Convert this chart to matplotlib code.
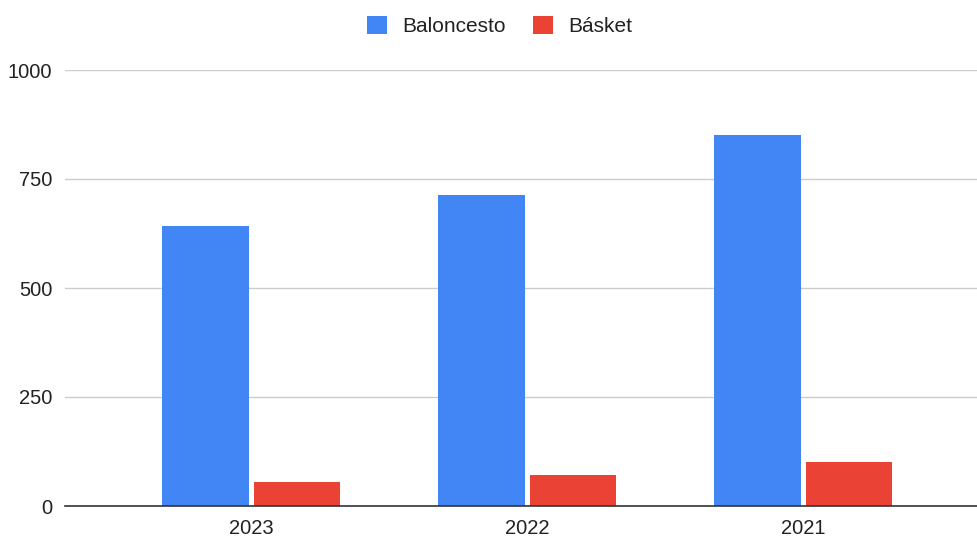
import matplotlib
matplotlib.use("Agg")
import matplotlib.pyplot as plt
import numpy as np

years = ["2023", "2022", "2021"]
baloncesto = [642, 714, 852]
basket = [54, 71, 102]
series_names = ["Baloncesto", "Básket"]
yticks = [0, 250, 500, 750, 1000]

plt.rcParams['font.family'] = ['Liberation Sans', 'DejaVu Sans']

fig = plt.figure(figsize=(9.78, 5.37), dpi=100)
ax = fig.add_axes([65/978, 31/537, 913/978, 436/537])

x = np.arange(len(years))
w = 0.312
gap = 0.009
ax.bar(x - w/2 - gap, baloncesto, width=w, color='#4285F4', label=series_names[0], zorder=3)
ax.bar(x + w/2 + gap, basket, width=w, color='#EA4335', label=series_names[1], zorder=3)

ax.set_xlim(-0.674, 2.634)
ax.set_ylim(0, 1000)
ax.set_yticks(yticks)
ax.set_yticklabels([str(v) for v in yticks])
ax.set_xticks(x)
ax.set_xticklabels(years)
ax.tick_params(axis='both', length=0, labelsize=14.5, colors='#222222')
ax.tick_params(axis='y', pad=9)
ax.tick_params(axis='x', pad=9)

ax.grid(axis='y', color='#cccccc', linewidth=1, zorder=0)
for s in ['top', 'right', 'left']:
    ax.spines[s].set_visible(False)
ax.spines['bottom'].set_color('#333333')
ax.spines['bottom'].set_linewidth(1.2)
ax.spines['bottom'].set_zorder(4)

fig.legend(loc='center', bbox_to_anchor=(500/978, 1 - 26/537), ncol=2, frameon=False,
           fontsize=15, handlelength=0.95, handleheight=0.95, handletextpad=0.75,
           columnspacing=1.3, labelcolor='#222222')

fig.savefig("out.png", dpi=100)
